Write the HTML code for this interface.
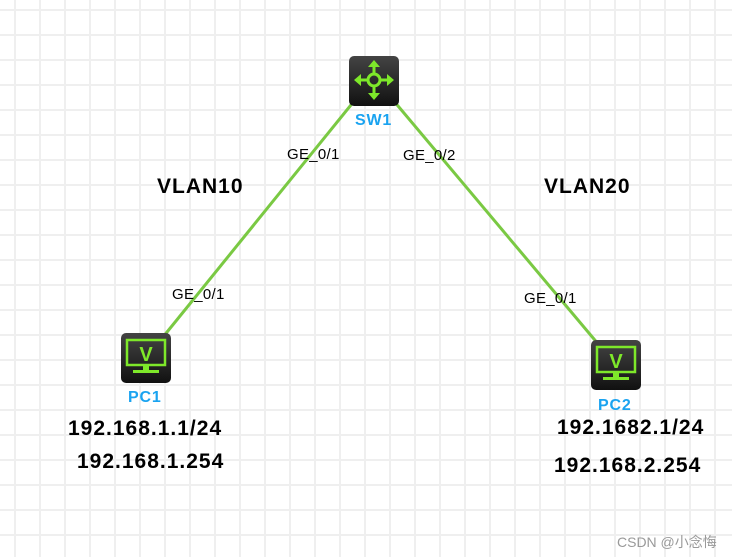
<html><head><style>
body{margin:0;width:732px;height:557px;overflow:hidden;background:#fff;font-family:"Liberation Sans",sans-serif;
background-image:linear-gradient(#efefef 2px,transparent 2px),linear-gradient(90deg,#efefef 2px,transparent 2px);
background-size:25px 25px;background-position:14px 9px;position:relative}
.t{position:absolute;white-space:nowrap}
.s{font-size:15px;color:#000;letter-spacing:0.3px}
.b{font-size:21px;font-weight:bold;color:#000;letter-spacing:1px}
.n{font-size:16px;font-weight:bold;color:#1aa3f0;letter-spacing:0.8px}
</style></head><body>
<svg width="732" height="557" style="position:absolute;left:0;top:0">
<line x1="355" y1="100" x2="163" y2="337" stroke="#7ac943" stroke-width="3"/>
<line x1="393" y1="100" x2="599" y2="345" stroke="#7ac943" stroke-width="3"/>
<defs><linearGradient id="g" x1="0" y1="0" x2="0" y2="1"><stop offset="0" stop-color="#444"/><stop offset="1" stop-color="#111"/></linearGradient></defs>
<rect x="349" y="56" width="50" height="50" rx="5" fill="url(#g)"/>
<g stroke="#7ee82a" stroke-width="3" fill="none">
<circle cx="374" cy="80" r="6"/>
<line x1="374" y1="74" x2="374" y2="64"/><line x1="374" y1="86" x2="374" y2="96"/>
<line x1="368" y1="80" x2="358" y2="80"/><line x1="380" y1="80" x2="390" y2="80"/>
</g>
<g fill="#7ee82a">
<polygon points="374,60 368,67 380,67"/><polygon points="374,100 368,93 380,93"/>
<polygon points="354,80 361,74 361,86"/><polygon points="394,80 387,74 387,86"/>
</g>
<g id="pc">
<rect x="121" y="333" width="50" height="50" rx="5" fill="url(#g)"/>
<rect x="127" y="340" width="38" height="25" fill="none" stroke="#7ee82a" stroke-width="2.5"/>
<text x="146" y="361" font-family="Liberation Sans" font-weight="bold" font-size="20" fill="#7ee82a" text-anchor="middle">V</text>
<rect x="143" y="366" width="6" height="4" fill="#7ee82a"/>
<rect x="133" y="370" width="26" height="3" fill="#7ee82a"/>
</g>
<use href="#pc" x="470" y="7"/>
</svg>
<div class="t n" style="left:355px;top:112px">SW1</div>
<div class="t n" style="left:128px;top:389px">PC1</div>
<div class="t n" style="left:598px;top:397px">PC2</div>
<div class="t s" style="left:287px;top:146px">GE_0/1</div>
<div class="t s" style="left:403px;top:147px">GE_0/2</div>
<div class="t s" style="left:172px;top:286px">GE_0/1</div>
<div class="t s" style="left:524px;top:290px">GE_0/1</div>
<div class="t b" style="left:157px;top:175px">VLAN10</div>
<div class="t b" style="left:544px;top:175px">VLAN20</div>
<div class="t b" style="left:68px;top:417px">192.168.1.1/24</div>
<div class="t b" style="left:77px;top:450px">192.168.1.254</div>
<div class="t b" style="left:557px;top:416px">192.1682.1/24</div>
<div class="t b" style="left:554px;top:454px">192.168.2.254</div>
<div class="t" style="left:617px;top:532px;font-size:14px;color:#999;font-family:'Liberation Sans','Noto Sans CJK SC',sans-serif">CSDN @小念悔</div>
</body></html>
